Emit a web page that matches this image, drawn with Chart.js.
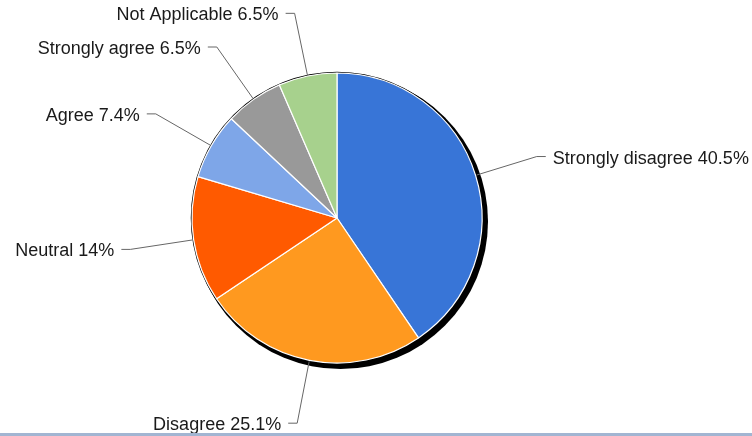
<!DOCTYPE html>
<html lang="en">

<head>
    <meta charset="UTF-8">
    <title>Survey Pie</title>
    <script src="https://cdn.jsdelivr.net/npm/chart.js"></script>
</head>

<body style="margin: 0; background: #fff; width: 752px; height: 436px; overflow: hidden; position: relative;">
    <canvas id="pieChart" width="752" height="436"></canvas>
    <div style="position: absolute; left: 0; top: 433px; width: 752px; height: 3px; background: #a2b5d2;"></div>

    <script>
        const categories = ['Strongly disagree', 'Disagree', 'Neutral', 'Agree', 'Strongly agree', 'Not Applicable'];
        const percentValues = [40.5, 25.1, 14, 7.4, 6.5, 6.5];
        const sliceColors = ['#3875d7', '#ff991f', '#ff5a00', '#7ea6e8', '#999999', '#a7d18d'];

        // black drop shadow + outline behind the pie
        const shadowPlugin = {
            id: 'pieShadow',
            beforeDatasetsDraw(chart) {
                const arc = chart.getDatasetMeta(0).data[0];
                if (!arc) return;
                const ctx = chart.ctx;
                ctx.save();
                ctx.fillStyle = '#000';
                ctx.beginPath();
                ctx.arc(arc.x + 3.5, arc.y + 3.5, arc.outerRadius + 2.5, 0, Math.PI * 2);
                ctx.fill();
                ctx.beginPath();
                ctx.arc(arc.x, arc.y, arc.outerRadius + 0.5, 0, Math.PI * 2);
                ctx.lineWidth = 1.5;
                ctx.strokeStyle = '#000';
                ctx.stroke();
                ctx.restore();
            }
        };

        // leader lines with elbow and labels
        const labelPlugin = {
            id: 'leaderLabels',
            afterDatasetsDraw(chart) {
                const ctx = chart.ctx;
                const meta = chart.getDatasetMeta(0);
                ctx.save();
                ctx.font = '18px "Liberation Sans", Arial, sans-serif';
                ctx.textBaseline = 'middle';
                meta.data.forEach((arc, i) => {
                    const mid = (arc.startAngle + arc.endAngle) / 2;
                    const r = arc.outerRadius;
                    const cos = Math.cos(mid), sin = Math.sin(mid);
                    const x0 = arc.x + cos * (r + 1);
                    const y0 = arc.y + sin * (r + 1);
                    const x1 = arc.x + cos * (r + 64);
                    const y1 = arc.y + sin * (r + 64);
                    const dir = cos >= 0 ? 1 : -1;
                    const x2 = x1 + dir * 9;
                    ctx.strokeStyle = '#666';
                    ctx.lineWidth = 1;
                    ctx.beginPath();
                    ctx.moveTo(x0, y0);
                    ctx.lineTo(x1, y1);
                    ctx.lineTo(x2, y1);
                    ctx.stroke();
                    ctx.fillStyle = '#1a1a1a';
                    ctx.textAlign = dir > 0 ? 'left' : 'right';
                    ctx.fillText(categories[i] + ' ' + percentValues[i] + '%', x2 + dir * 7, y1 + 2);
                });
                ctx.restore();
            }
        };

        const pieChart = new Chart(document.getElementById('pieChart').getContext('2d'), {
            type: 'pie',
            data: {
                labels: categories,
                datasets: [{
                    data: percentValues,
                    backgroundColor: sliceColors,
                    borderColor: '#ffffff',
                    borderWidth: 1.2,
                    radius: 145,
                    offset: 0,
                    hoverOffset: 0
                }]
            },
            options: {
                responsive: false,
                animation: false,
                devicePixelRatio: 1,
                layout: {
                    padding: { left: 192, right: 270, top: 73, bottom: 73 }
                },
                plugins: {
                    legend: { display: false },
                    tooltip: { enabled: false }
                }
            },
            plugins: [shadowPlugin, labelPlugin]
        });
    </script>
</body>

</html>
